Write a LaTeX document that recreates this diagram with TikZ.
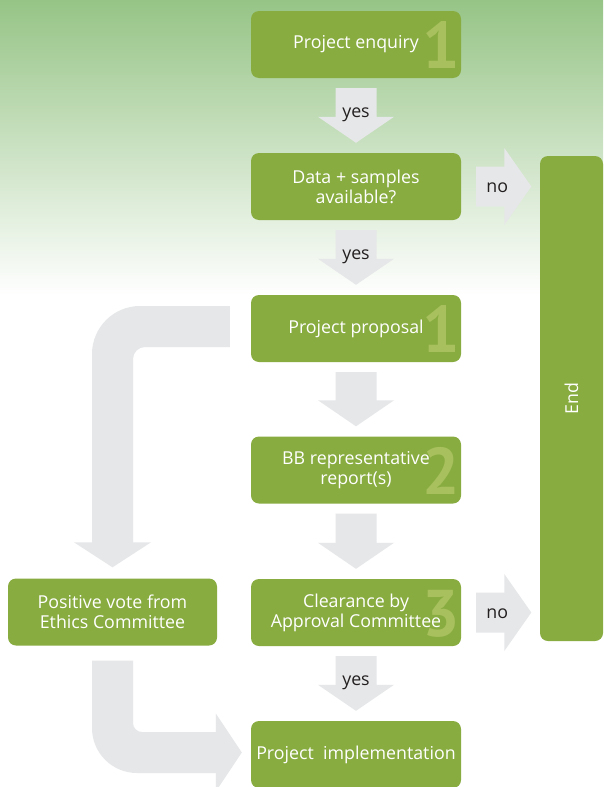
\documentclass[tikz,border=0pt]{standalone}
\usepackage{fontspec}
\usepackage{graphicx}
\setmainfont{Open Sans}
\newfontfamily\numfamily{PT Sans}
\usetikzlibrary{calc,backgrounds}

\definecolor{boxgreen}{RGB}{136,172,64}
\definecolor{digitgreen}{RGB}{168,193,94}
\definecolor{arrowgray}{RGB}{230,231,232}
\definecolor{bgtop}{RGB}{150,196,134}
\definecolor{lbltext}{RGB}{35,31,32}

\newcommand\boxfont{\fontsize{17.8}{20}\selectfont}
\newcommand\digitfont{\numfamily\fontsize{66}{66}\selectfont\bfseries}

% straight block arrow pointing down, between two stacked boxes
\newcommand\vdownarrow[2]{%
  \fill[arrowgray] let \p1=($(#1.south)+(0,10)$), \p2=($(#2.north)+(0,-10)$) in
    (\x1-20.5pt,\y1) -- (\x1+20.5pt,\y1) -- (\x1+20.5pt,\y2+26pt) -- (\x1+38pt,\y2+26pt)
    -- (\x1,\y2) -- (\x1-38pt,\y2+26pt) -- (\x1-20.5pt,\y2+26pt) -- cycle;}

% block arrow pointing right, towards the End box
\newcommand\hnoarrow[2]{%
  \fill[arrowgray] let \p1=(#1.east), \p2=(#2.west) in
    (\x1+15pt,\y1+20pt) -- (\x2-35.5pt,\y1+20pt) -- (\x2-35.5pt,\y1+38.5pt)
    -- (\x2-8.5pt,\y1) -- (\x2-35.5pt,\y1-38.5pt) -- (\x2-35.5pt,\y1-20pt)
    -- (\x1+15pt,\y1-20pt) -- cycle;}

\begin{document}
\begin{tikzpicture}[x=1pt,y=-1pt,
  box/.style={rectangle, rounded corners=8pt, fill=boxgreen, text=white,
    align=center, minimum width=210pt, minimum height=67pt, inner sep=0pt,
    font=\boxfont},
  digit/.style={text=digitgreen, font=\digitfont, inner sep=0pt, anchor=base},
  num/.style={path picture={\node[digit] at
    ([xshift=85pt,yshift=-24pt]path picture bounding box.center) {#1};}},
  lbl/.style={text=lbltext, font=\boxfont, inner sep=0pt}]

\useasboundingbox (0,0) rectangle (603,787);

% process boxes
\node[box, num=1] (enq)  at (356,44.5)  {\raisebox{-1.5pt}{Project enquiry}};
\node[box]        (data) at (356,186.5) {Data + samples\\available?};
\node[box, num=1] (prop) at (356,328.5) {\raisebox{-1pt}{Project proposal}};
\node[box, num=2] (bb)   at (356,470)   {BB representative\\report(s)};
\node[box, num=3] (clr)  at (356,612.5) {Clearance by\\Approval Committee};
\node[box, minimum width=209pt] (pos) at (112.5,612) {Positive vote from\\Ethics Committee};
\node[box] (impl) at (356,754.5) {Project\ \ implementation};
\node[box, minimum width=63pt, minimum height=485pt] (endb) at (571.5,398.5)
  {\rotatebox{90}{End}};

\begin{scope}[on background layer]
  % page background with green fade at the top
  \fill[white] (0,0) rectangle (603,787);
  \shade[top color=bgtop, bottom color=white] (0,0) rectangle (603,296);

  % main flow
  \vdownarrow{enq}{data}
  \vdownarrow{data}{prop}
  \vdownarrow{prop}{bb}
  \vdownarrow{bb}{clr}
  \vdownarrow{clr}{impl}

  % rejections
  \hnoarrow{data}{endb}
  \hnoarrow{clr}{endb}

  % proposal to ethics committee (bent arrow)
  \fill[arrowgray] let \p1=(prop.west), \p2=(pos.north) in
    (\x1-21pt,\y1+22.5pt) -- (\x2+27.5pt,\y1+22.5pt)
    .. controls (\x2+1pt,\y1+22.5pt) and (\x2-20.5pt,\y1+1pt) .. (\x2-20.5pt,\y1-25.5pt)
    -- (\x2-20.5pt,\y2+36pt) -- (\x2-38.5pt,\y2+36pt) -- (\x2,\y2+11pt)
    -- (\x2+38.5pt,\y2+36pt) -- (\x2+20.5pt,\y2+36pt)
    -- (\x2+20.5pt,\y1-30.5pt)
    .. controls (\x2+20.5pt,\y1-23.9pt) and (\x2+25.9pt,\y1-18.5pt) .. (\x2+32.5pt,\y1-18.5pt)
    -- (\x1-21pt,\y1-18.5pt) -- cycle;

  % ethics committee to implementation (bent arrow)
  \fill[arrowgray] let \p1=(pos.south), \p2=(impl.west) in
    (\x1-20.5pt,\y1-15pt) -- (\x1-20.5pt,\y2-18.5pt+45pt)
    .. controls (\x1-20.5pt,\y2-18.5pt+20.15pt) and (\x1-20.5pt+20.15pt,\y2-18.5pt) .. (\x1+24.5pt,\y2-18.5pt)
    -- (\x2-35pt,\y2-18.5pt) -- (\x2-35pt,\y2+2pt-39pt) -- (\x2-9pt,\y2+2pt)
    -- (\x2-35pt,\y2+2pt+39pt) -- (\x2-35pt,\y2+22.5pt)
    -- (\x1+29.5pt,\y2+22.5pt)
    .. controls (\x1+24.53pt,\y2+22.5pt) and (\x1+20.5pt,\y2+26.53pt) .. (\x1+20.5pt,\y2+31.5pt)
    -- (\x1+20.5pt,\y1-15pt) -- cycle;
\end{scope}

% arrow labels
\node[lbl] (y1) at ($(enq.south)+(0,37)$)  {yes};
\node[lbl] (y2) at ($(data.south)+(0,37)$) {yes};
\node[lbl] (y3) at ($(clr.south)+(0,37)$)  {yes};
\node[lbl] (n1) at ($(data.east)+(36,1)$)  {no};
\node[lbl] (n2) at ($(clr.east)+(36,1)$)   {no};

\end{tikzpicture}
\end{document}
